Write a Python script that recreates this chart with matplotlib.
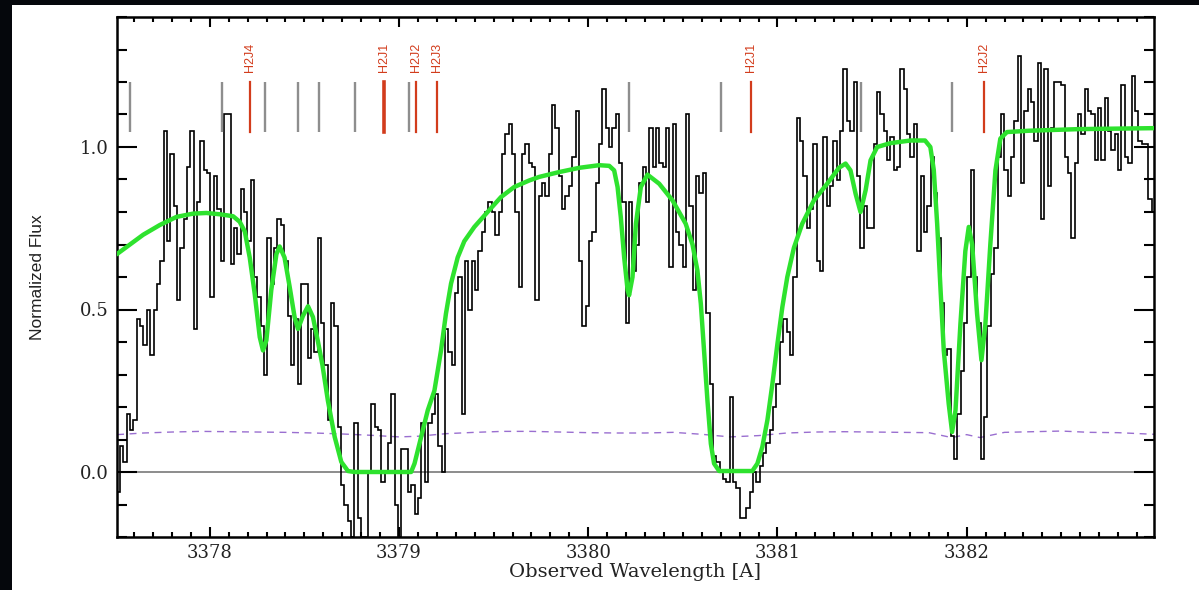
import numpy as np
import matplotlib
matplotlib.use("Agg")
import matplotlib.pyplot as plt
from matplotlib.patches import Rectangle
from matplotlib.ticker import MultipleLocator, FixedLocator

# observed spectrum (histogram), one value per pixel bin
wl_start = 3377.508   # A, left edge of first bin
wl_bin = 0.0177       # A, bin width
flux = [
  -0.06, 0.08, 0.03, 0.18, 0.13, 0.16, 0.47, 0.45, 0.39, 0.50, 0.36, 0.50, 0.58, 0.65, 1.05,
  0.71, 0.98, 0.82, 0.53, 0.69, 0.78, 0.94, 1.05, 0.44, 0.83, 1.02, 0.93, 0.92, 0.54, 0.91,
  0.81, 0.65, 1.10, 1.10, 0.64, 0.75, 0.67, 0.87, 0.80, 0.71, 0.90, 0.60, 0.54, 0.45, 0.30,
  0.72, 0.58, 0.69, 0.78, 0.76, 0.65, 0.48, 0.33, 0.47, 0.27, 0.58, 0.58, 0.35, 0.44, 0.37,
  # 3378.57 -
  0.72, 0.46, 0.33, 0.16, 0.52, 0.45, 0.14, -0.04, -0.10, -0.15, -0.20, 0.15, -0.14, -0.20,
  -0.20, 0.0, 0.21, 0.14, 0.13, -0.03, 0.0, 0.09, 0.24, -0.10, -0.20, 0.07, 0.07, -0.06,
  -0.04, -0.13, -0.08, 0.15, -0.03, 0.15, 0.18, 0.24, 0.08, 0.0, 0.44, 0.37, 0.33, 0.55,
  0.60, 0.18, 0.65, 0.50, 0.65, 0.56, 0.68, 0.74, 0.80, 0.83, 0.80, 0.73, 0.80, 0.98, 1.04,
  1.07, 0.98, 0.80, 0.57, 0.98,
  # 3379.66 -
  1.01, 0.95, 0.94, 0.53, 0.85, 0.89, 0.85, 0.98, 1.13, 1.06, 0.91, 0.81, 0.85, 0.88, 0.97,
  1.11, 0.65, 0.45, 0.51, 0.71, 0.74, 0.89, 1.01, 1.18, 1.06, 1.00, 1.06, 1.10, 0.95, 0.83,
  0.46, 0.83, 0.62, 0.70, 0.89, 0.94, 0.83, 1.06, 0.94, 1.06, 0.95, 0.94, 1.06, 0.63, 1.07,
  0.74, 0.70, 0.63, 1.10, 0.82, 0.56, 0.91, 0.86, 0.92, 0.49, 0.27, 0.05, 0.03, 0.0, -0.02,
  -0.03,
  # 3380.74 -
  0.23, -0.03, -0.05, -0.14, -0.14, -0.11, -0.06, 0.0, -0.03, 0.02, 0.06, 0.09, 0.13, 0.20,
  0.27, 0.40, 0.47, 0.43, 0.36, 0.60, 1.09, 1.02, 0.91, 0.75, 0.81, 1.01, 0.65, 0.62, 1.03,
  0.82, 0.88, 1.02, 0.90, 1.05, 1.24, 1.08, 1.05, 1.20, 0.91, 0.69, 0.82, 0.75, 0.75, 1.01,
  1.17, 1.10, 1.05, 0.96, 1.03, 0.93, 0.94, 1.24, 1.18, 1.04, 0.97, 1.07, 0.68, 0.91, 0.74,
  0.82, 0.97,
  # 3381.82 -
  0.86, 0.72, 0.52, 0.36, 0.38, 0.11, 0.04, 0.18, 0.31, 0.46, 0.60, 0.93, 0.60, 0.46, 0.04,
  0.17, 0.45, 0.61, 0.69, 0.97, 1.10, 0.93, 0.85, 0.97, 1.08, 1.28, 0.89, 1.11, 1.18, 1.14,
  1.02, 1.26, 0.78, 1.24, 0.88, 1.06, 1.20, 1.20, 1.19, 0.97, 0.92, 0.72, 0.95, 1.10, 1.04,
  1.18, 1.11, 1.10, 0.96, 1.12, 0.96, 1.15, 1.05, 0.99, 1.04, 0.93, 1.19, 0.97, 0.95, 1.22,
  1.11, 1.02, 1.01, 1.01, 0.84, 0.80,
]

# fitted model (green)
model_wl = [3377.508, 3377.578, 3377.648, 3377.736, 3377.824, 3377.912, 3377.982, 3378.053,
            3378.123, 3378.158, 3378.185, 3378.211, 3378.237, 3378.264, 3378.281, 3378.299,
            3378.325, 3378.352, 3378.369, 3378.395, 3378.422, 3378.448, 3378.466, 3378.492,
            3378.519, 3378.545, 3378.572, 3378.595, 3378.624, 3378.660, 3378.695, 3378.730,
            3378.765, 3379.064, 3379.082, 3379.117, 3379.152, 3379.187, 3379.222, 3379.248,
            3379.275, 3379.310, 3379.345, 3379.398, 3379.468, 3379.539, 3379.609, 3379.688,
            3379.741, 3379.847, 3379.953, 3380.058, 3380.111, 3380.137, 3380.155, 3380.172,
            3380.190, 3380.208, 3380.216, 3380.234, 3380.252, 3380.278, 3380.313, 3380.375,
            3380.445, 3380.515, 3380.551, 3380.577, 3380.595, 3380.612, 3380.630, 3380.648,
            3380.665, 3380.692, 3380.867, 3380.894, 3380.920, 3380.947, 3380.973, 3381.000,
            3381.026, 3381.052, 3381.087, 3381.131, 3381.193, 3381.263, 3381.325, 3381.360,
            3381.386, 3381.413, 3381.439, 3381.466, 3381.492, 3381.527, 3381.598, 3381.703,
            3381.780, 3381.808, 3381.826, 3381.844, 3381.862, 3381.879, 3381.905, 3381.923,
            3381.941, 3381.967, 3381.993, 3382.011, 3382.029, 3382.055, 3382.078, 3382.099,
            3382.125, 3382.152, 3382.178, 3382.213, 3382.327, 3382.591, 3382.990]
model_flux = [0.67, 0.70, 0.73, 0.76, 0.785, 0.795, 0.797, 0.793,
              0.787, 0.77, 0.74, 0.66, 0.55, 0.415, 0.374, 0.405,
              0.56, 0.67, 0.694, 0.66, 0.57, 0.477, 0.44, 0.48,
              0.51, 0.477, 0.40, 0.33, 0.22, 0.108, 0.031, 0.003,
              0.0, 0.0, 0.026, 0.108, 0.19, 0.25, 0.374, 0.487,
              0.58, 0.66, 0.71, 0.754, 0.80, 0.846, 0.877, 0.897,
              0.908, 0.923, 0.936, 0.944, 0.942, 0.928, 0.877, 0.785,
              0.66, 0.56, 0.544, 0.60, 0.764, 0.877, 0.915, 0.887,
              0.836, 0.764, 0.70, 0.62, 0.518, 0.374, 0.22, 0.087,
              0.026, 0.003, 0.003, 0.026, 0.077, 0.16, 0.27, 0.395,
              0.508, 0.60, 0.69, 0.764, 0.836, 0.887, 0.936, 0.949,
              0.928, 0.856, 0.80, 0.867, 0.959, 1.0, 1.012, 1.02,
              1.02, 1.0, 0.93, 0.764, 0.56, 0.374, 0.21, 0.123,
              0.19, 0.456, 0.68, 0.754, 0.70, 0.487, 0.344, 0.456,
              0.70, 0.928, 1.026, 1.046, 1.05, 1.055, 1.058]

# error spectrum (purple dashed)
err_wl = [3377.51, 3377.65, 3377.80, 3377.95, 3378.10, 3378.25, 3378.40, 3378.55, 3378.70,
          3378.85, 3379.00, 3379.10, 3379.25, 3379.40, 3379.55, 3379.70, 3379.85, 3380.00,
          3380.15, 3380.30, 3380.45, 3380.60, 3380.75, 3380.90, 3381.05, 3381.20, 3381.35,
          3381.50, 3381.65, 3381.80, 3381.92, 3382.00, 3382.07, 3382.20, 3382.35, 3382.50,
          3382.65, 3382.80, 3382.99]
err_flux = [0.115, 0.120, 0.123, 0.125, 0.124, 0.123, 0.122, 0.120, 0.117,
            0.113, 0.108, 0.110, 0.118, 0.122, 0.125, 0.125, 0.123, 0.121,
            0.120, 0.120, 0.122, 0.116, 0.108, 0.112, 0.120, 0.123, 0.124,
            0.123, 0.122, 0.121, 0.106, 0.115, 0.106, 0.122, 0.124, 0.126,
            0.122, 0.121, 0.116]

# line markers
gray_wl = [3377.578, 3378.063, 3378.290, 3378.464, 3378.575, 3378.765, 3379.055,
           3380.216, 3380.702, 3381.441, 3381.921]
h2_wl = [3378.211, 3378.923, 3379.092, 3379.203, 3380.860, 3382.090]
h2_lab = ["H2J4", "H2J1", "H2J2", "H2J3", "H2J1", "H2J2"]
h2_lw = [1.6, 2.6, 1.6, 1.6, 1.6, 1.6]

fig = plt.figure(figsize=(11.99, 5.90), dpi=100)
fig.patch.set_facecolor("#05070c")
fig.patches.append(Rectangle((12/1199, 0), 1 - 12/1199, 585/590, transform=fig.transFigure,
                             facecolor="white", edgecolor="none", zorder=-10))

ax = fig.add_axes([116.7/1199, 53/590, (1154-116.7)/1199, 520/590])
ax.set_facecolor("white")

edges = wl_start + wl_bin*np.arange(len(flux)+1)
ax.axhline(0, color="#8c8c8c", lw=1.4, zorder=1)
ax.plot(err_wl, err_flux, color="#9a6fd0", lw=1.0, ls=(0, (5, 4)), zorder=2)
ax.stairs(flux, edges, baseline=None, color="black", lw=1.2, zorder=3)
ax.plot(model_wl, model_flux, color="#2ee22e", lw=3.2, solid_capstyle="round", zorder=4)

ax.vlines(gray_wl, 1.046, 1.2, color="#8e8e8e", lw=1.7, zorder=3)
for w, lab, lw in zip(h2_wl, h2_lab, h2_lw):
  ax.plot([w, w], [1.046, 1.2], color="#d23c1c", lw=lw, zorder=3)
  ax.text(w, 1.23, lab, rotation=90, ha="center", va="bottom", color="#d23c1c",
          fontsize=9, family=["Liberation Sans Narrow", "Liberation Sans"])

ax.set_xlim(3377.508, 3382.99)
ax.set_ylim(-0.2, 1.4)
ax.xaxis.set_major_locator(FixedLocator([3378, 3379, 3380, 3381, 3382]))
ax.xaxis.set_minor_locator(MultipleLocator(0.1))
ax.yaxis.set_major_locator(FixedLocator([0.0, 0.5, 1.0]))
ax.yaxis.set_minor_locator(MultipleLocator(0.1))
ax.yaxis.set_major_formatter(matplotlib.ticker.FormatStrFormatter("%.1f"))
ax.tick_params(axis="both", which="both", direction="in", top=True, right=True,
               width=1.5, color="black", labelcolor="#222222")
ax.tick_params(axis="x", which="major", length=7.5, pad=5)
ax.tick_params(axis="x", which="minor", length=3.8)
ax.tick_params(axis="y", which="major", length=14.5, pad=6)
ax.tick_params(axis="y", which="minor", length=7.5)
for lbl in ax.get_xticklabels() + ax.get_yticklabels():
  lbl.set_family("DejaVu Serif")
  lbl.set_fontsize(13)
for sp in ax.spines.values():
  sp.set_linewidth(1.8)

ax.set_xlabel("Observed Wavelength [A]", family="DejaVu Serif", fontsize=14,
              color="#222222", labelpad=1)
ax.set_ylabel("Normalized Flux", family=["Liberation Sans Narrow", "Liberation Sans"],
              fontsize=12.5, color="#222222")
ax.yaxis.set_label_coords(-0.069, 0.5)

fig.savefig("out.png", dpi=100, facecolor=fig.get_facecolor())
